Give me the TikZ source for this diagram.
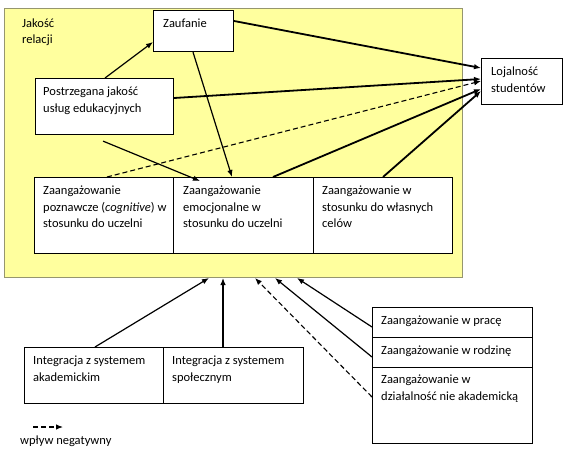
\documentclass[tikz,border=0pt]{standalone}
\usepackage{fontspec}
\setmainfont{Carlito}
\usetikzlibrary{arrows.meta,calc}
\definecolor{yel}{RGB}{255,255,158}
\definecolor{yelborder}{RGB}{150,150,110}
\newcommand{\firstln}{\rule{0pt}{12pt}}
\begin{document}
\begin{tikzpicture}[x=1pt,y=-1pt,
  box/.style={draw=black,line width=1.1pt,fill=white,inner sep=0pt,anchor=north west},
  txt/.style={anchor=north west,inner sep=0pt,align=left,font=\fontsize{12.5}{16.8}\selectfont},
  arr/.style={line width=1.2pt,-{Latex[length=7pt,width=5.5pt]}},
  thick arr/.style={line width=1.8pt,-{Latex[length=7pt,width=5.5pt]}},
  neg/.style={line width=1.1pt,dash pattern=on 5pt off 3pt,-{Latex[length=7pt,width=5.5pt]}}]
\useasboundingbox[fill=white] (0,0) rectangle (569,460);
% yellow area
\node[draw=yelborder,line width=1pt,fill=yel,inner sep=0pt,anchor=north west,minimum width=458pt,minimum height=269pt] (yelarea) at (4,8) {};
\node[txt] (jak) at (22,15) {\firstln Jakość\\relacji};
% boxes
\node[box,minimum width=80pt,minimum height=41pt] (zauf) at (153,10) {};
\node[box,minimum width=138pt,minimum height=56pt] (post) at (35,78) {};
\node[box,minimum width=81pt,minimum height=46pt] (loj) at (481,58) {};
\node[box,minimum width=139pt,minimum height=76pt] (cog) at (34,177) {};
\node[box,minimum width=140pt,minimum height=76pt] (emo) at (173,177) {};
\node[box,minimum width=139pt,minimum height=76pt] (own) at (313,177) {};
\node[box,minimum width=139pt,minimum height=56pt] (ia) at (24,347) {};
\node[box,minimum width=140pt,minimum height=56pt] (is) at (163,347) {};
\node[box,minimum width=160pt,minimum height=30pt] (wp) at (372,307) {};
\node[box,minimum width=160pt,minimum height=30pt] (wr) at (372,337) {};
\node[box,minimum width=160pt,minimum height=76pt] (wd) at (372,367) {};
% texts (first baseline 17pt below box top)
\node[txt] (tzauf) at ($(zauf.north west)+(10,5)$) {\firstln Zaufanie};
\node[txt] (tpost) at ($(post.north west)+(8,5)$) {\firstln Postrzegana jakość\\usług edukacyjnych};
\node[txt] (tloj) at ($(loj.north west)+(10,5)$) {\firstln Lojalność\\studentów};
\node[txt] (tcog) at ($(cog.north west)+(9,5)$) {\firstln Zaangażowanie\\poznawcze (\textit{cognitive}) w\\stosunku do uczelni};
\node[txt] (temo) at ($(emo.north west)+(10,5)$) {\firstln Zaangażowanie\\emocjonalne w\\stosunku do uczelni};
\node[txt] (town) at ($(own.north west)+(9,5)$) {\firstln Zaangażowanie w\\stosunku do własnych\\celów};
\node[txt] (tia) at ($(ia.north west)+(9,5)$) {\firstln Integracja z systemem\\akademickim};
\node[txt] (tis) at ($(is.north west)+(9,5)$) {\firstln Integracja z systemem\\społecznym};
\node[txt] (twp) at ($(wp.north west)+(9,5)$) {\firstln Zaangażowanie w pracę};
\node[txt] (twr) at ($(wr.north west)+(9,5)$) {\firstln Zaangażowanie w rodzinę};
\node[txt] (twd) at ($(wd.north west)+(9,4)$) {\firstln Zaangażowanie w\\działalność nie akademicką};
% connectors inside
\draw[arr] ($(post.north west)+(70,0)$) -- ($(zauf.north west)+(0,32)$);
\draw[thick arr] ($(zauf.north east)+(0,11)$) -- ($(loj.north west)+(0,10)$);
\draw[thick arr] ($(post.north east)+(0,20)$) -- ($(loj.north west)+(0,21)$);
\draw[neg] ($(cog.north west)+(73,0)$) -- ($(loj.north west)+(0,23)$);
\draw[arr] ($(zauf.south west)+(40,0)$) -- ($(emo.north west)+(59,0)$);
\coordinate (pstart) at ($(post.south west)+(68,6)$);
\draw[arr] (pstart) -- ($(emo.north west)+(27,4)$);
\draw[thick arr] ($(emo.north west)+(100,0)$) -- ($(loj.north west)+(0,31)$);
\draw[thick arr] ($(own.north west)+(70,0)$) -- ($(loj.north west)+(0,33)$);
% connectors from below
\draw[arr] ($(ia.north west)+(71,0)$) -- ($(yelarea.south west)+(205,0)$);
\draw[arr] ($(is.north west)+(60,0)$) -- ($(yelarea.south west)+(219,0)$);
\draw[neg] ($(wd.north west)+(0,30)$) -- ($(yelarea.south west)+(251,0)$);
\draw[arr] ($(wr.north west)+(0,20)$) -- ($(yelarea.south west)+(271,0)$);
\draw[arr] ($(wp.north west)+(0,20)$) -- ($(yelarea.south west)+(293,0)$);
% legend
\coordinate (lega) at (33,427);
\coordinate (legb) at (63,427);
\draw[neg] (lega) -- (legb);
\node[txt] (legt) at (20,432) {\firstln wpływ negatywny};
\end{tikzpicture}
\end{document}
